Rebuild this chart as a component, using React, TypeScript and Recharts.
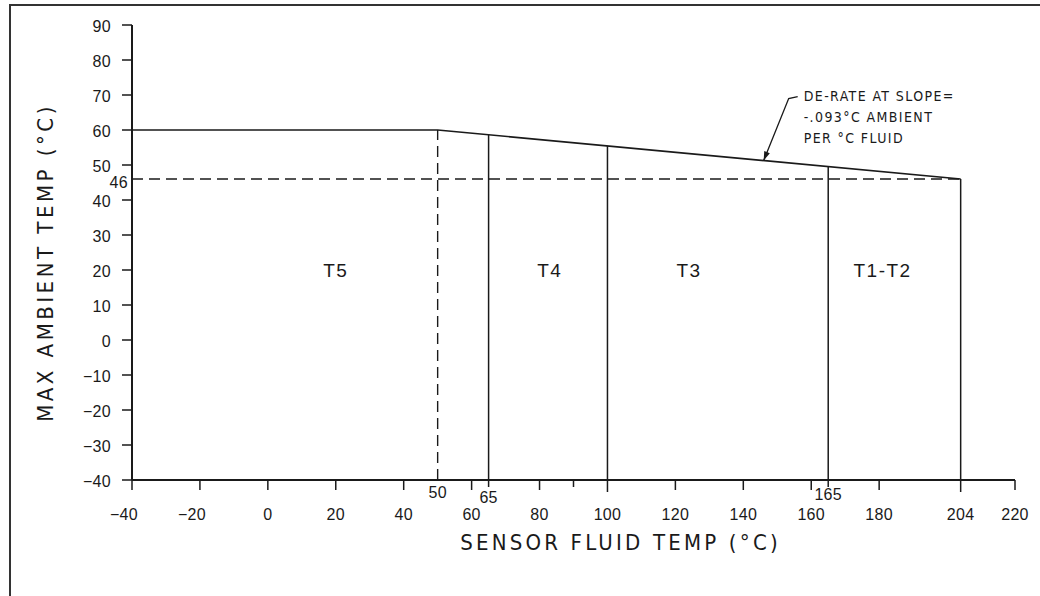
import React from "react";
import { ComposedChart, Line, ReferenceDot, ReferenceLine, XAxis, YAxis } from "recharts";

// de-rate curve: max ambient vs sensor fluid temp
const DERATE_X = [-40, 50, 204];
const DERATE_Y = [60, 60, 46];

const T5_LIMIT = 50; // dashed boundary
const CLASS_BOUNDS = [65, 100, 165, 204]; // solid boundaries
const MIN_AMBIENT = 46;

const ZONE_LABELS = ["T5", "T4", "T3", "T1-T2"];
const ZONE_LABEL_X = [20, 83, 124, 181];
const ZONE_LABEL_Y = 20;

const X_TICKS = [-40, -20, 0, 20, 40, 50, 60, 65, 80, 90, 100, 120, 140, 160, 165, 180, 204, 220];
const X_SPECIAL = [50, 65, 165];
const Y_TICKS = [-40, -30, -20, -10, 0, 10, 20, 30, 40, 46, 50, 60, 70, 80, 90];

const NOTE_LINES = ["DE-RATE AT SLOPE=", "-.093°C AMBIENT", "PER °C FLUID"];
const NOTE_AT_X = 146;

const INK = "#1a1a1a";
const NUM_FONT = "'Liberation Sans', Arial, sans-serif";
const LETTER_FONT = "'Liberation Sans Narrow', 'DejaVu Sans Condensed', 'Liberation Sans', sans-serif";

const derateData = DERATE_X.map((x, i) => ({ x, y: DERATE_Y[i] }));

function derateAt(x: number) {
  for (let i = 0; i < DERATE_X.length - 1; i++) {
    const x0 = DERATE_X[i];
    const x1 = DERATE_X[i + 1];
    if (x >= x0 && x <= x1) {
      const t = (x - x0) / (x1 - x0);
      return DERATE_Y[i] + t * (DERATE_Y[i + 1] - DERATE_Y[i]);
    }
  }
  return DERATE_Y[DERATE_Y.length - 1];
}

const fmt = (v: number) => (v < 0 ? "\u2212" + Math.abs(v) : String(v));

const XTick = (props: any) => {
  const { x, y, payload } = props;
  const v = payload.value;
  if (v === 90) {
    return <line x1={x} x2={x} y1={y} y2={y + 7} stroke={INK} strokeWidth={1.5} />;
  }
  if (X_SPECIAL.includes(v)) {
    const dy = v === 50 ? 7 : v === 65 ? 12 : 9;
    return (
      <g>
        {v !== 50 && <line x1={x} x2={x} y1={y} y2={y + 7} stroke={INK} strokeWidth={1.5} />}
        <text x={x} y={y + dy} dy="0.71em" textAnchor="middle" fontSize={16} fill={INK} fontFamily={NUM_FONT} letterSpacing={0.3}>
          {v}
        </text>
      </g>
    );
  }
  const len = v === 100 || v === 204 ? 12 : 10;
  return (
    <g>
      <line x1={x} x2={x} y1={y} y2={y + len} stroke={INK} strokeWidth={1.5} />
      <text x={x} y={y + 29} dx={v < 0 ? -8 : 0} dy="0.71em" textAnchor="middle" fontSize={16} fill={INK} fontFamily={NUM_FONT} letterSpacing={0.3}>
        {fmt(v)}
      </text>
    </g>
  );
};

const YTick = (props: any) => {
  const { x, y, payload } = props;
  const v = payload.value;
  if (v === MIN_AMBIENT) {
    return (
      <text x={x - 4} y={y + 3} textAnchor="end" dominantBaseline="central" fontSize={16} fill={INK} fontFamily={NUM_FONT} letterSpacing={0.3}>
        {v}
      </text>
    );
  }
  return (
    <g>
      <line x1={x - 10} x2={x} y1={y} y2={y} stroke={INK} strokeWidth={1.5} />
      <text x={x - 21} y={y + 1} textAnchor="end" dominantBaseline="central" fontSize={16} fill={INK} fontFamily={NUM_FONT} letterSpacing={0.3}>
        {fmt(v)}
      </text>
    </g>
  );
};

const XTitle = (props: any) => {
  const vb = props.viewBox ?? { x: 132, y: 480, width: 883, height: 60 };
  return (
    <text x={vb.x + vb.width / 2 + 47} y={vb.y + 62} textAnchor="middle" dominantBaseline="central" fontSize={22} fill={INK} fontFamily={LETTER_FONT} letterSpacing={3.2}>
      SENSOR FLUID TEMP (°C)
    </text>
  );
};

const YTitle = (props: any) => {
  const vb = props.viewBox ?? { x: 0, y: 25, width: 132, height: 455 };
  const cx = vb.x + 45;
  const cy = vb.y + vb.height / 2 + 10;
  return (
    <text x={cx} y={cy} transform={`rotate(-90 ${cx} ${cy})`} textAnchor="middle" dominantBaseline="central" fontSize={22} fill={INK} fontFamily={LETTER_FONT} letterSpacing={3.5}>
      MAX AMBIENT TEMP (°C)
    </text>
  );
};

const zoneLabel = (text: string) => (props: any) => (
  <text x={props.cx} y={props.cy} textAnchor="middle" dominantBaseline="central" fontSize={19} fill={INK} fontFamily={NUM_FONT} letterSpacing={1.5}>
    {text}
  </text>
);

const NoteShape = (props: any) => {
  const { cx, cy } = props;
  const ex = cx + 25;
  const ey = cy - 62;
  // arrowhead pointing down the leader toward the curve
  const ang = Math.atan2(cy - ey, cx - ex);
  const ah = 9;
  const aw = 3;
  const bx = cx - ah * Math.cos(ang);
  const by = cy - ah * Math.sin(ang);
  const px = -Math.sin(ang) * aw;
  const py = Math.cos(ang) * aw;
  return (
    <g>
      <polyline points={`${cx},${cy} ${ex},${ey} ${ex + 9},${ey - 2}`} fill="none" stroke={INK} strokeWidth={1.3} />
      <polygon points={`${cx},${cy} ${bx + px},${by + py} ${bx - px},${by - py}`} fill={INK} />
      {NOTE_LINES.map((t, i) => (
        <text key={t} x={cx + 40} y={cy - 60 + i * 21} fontSize={14} fill={INK} fontFamily={LETTER_FONT} letterSpacing={1.4}>
          {t}
        </text>
      ))}
    </g>
  );
};

export default function App() {
  return (
    <div style={{ position: "absolute", left: 0, top: 0, width: 1040, height: 596, background: "#fff", overflow: "hidden" }}>
      <div style={{ position: "absolute", left: 9, top: 4, width: 1040, height: 600, borderLeft: "2px solid #333", borderTop: "2px solid #333" }} />
      <div style={{ position: "absolute", left: 0, top: 0 }}>
        <ComposedChart width={1040} height={596} margin={{ top: 25, right: 25, bottom: 56, left: 0 }}>
          <XAxis
            dataKey="x"
            type="number"
            domain={[-40, 220]}
            ticks={X_TICKS}
            interval={0}
            tickSize={0}
            tickMargin={0}
            tick={(p: any) => <XTick {...p} />}
            axisLine={{ stroke: INK, strokeWidth: 2 }}
            height={60}
            label={(p: any) => <XTitle {...p} />}
          />
          <YAxis
            type="number"
            domain={[-40, 90]}
            ticks={Y_TICKS}
            interval={0}
            tickSize={0}
            tickMargin={0}
            tick={(p: any) => <YTick {...p} />}
            axisLine={{ stroke: INK, strokeWidth: 2 }}
            width={132}
            label={(p: any) => <YTitle {...p} />}
          />
          <ReferenceLine
            segment={[{ x: DERATE_X[0], y: MIN_AMBIENT }, { x: DERATE_X[DERATE_X.length - 1], y: MIN_AMBIENT }]}
            stroke={INK}
            strokeWidth={1.4}
            strokeDasharray="11 6"
          />
          <ReferenceLine
            segment={[{ x: T5_LIMIT, y: -40 }, { x: T5_LIMIT, y: derateAt(T5_LIMIT) }]}
            stroke={INK}
            strokeWidth={1.4}
            strokeDasharray="11 6"
          />
          {CLASS_BOUNDS.map((b) => (
            <ReferenceLine key={b} segment={[{ x: b, y: -40 }, { x: b, y: derateAt(b) }]} stroke={INK} strokeWidth={1.5} />
          ))}
          <Line data={derateData} dataKey="y" type="linear" stroke={INK} strokeWidth={1.6} dot={false} isAnimationActive={false} />
          {ZONE_LABELS.map((t, i) => (
            <ReferenceDot key={t} x={ZONE_LABEL_X[i]} y={ZONE_LABEL_Y} r={0} shape={zoneLabel(t)} />
          ))}
          <ReferenceDot x={NOTE_AT_X} y={derateAt(NOTE_AT_X)} r={0} shape={(p: any) => <NoteShape {...p} />} />
        </ComposedChart>
      </div>
    </div>
  );
}
